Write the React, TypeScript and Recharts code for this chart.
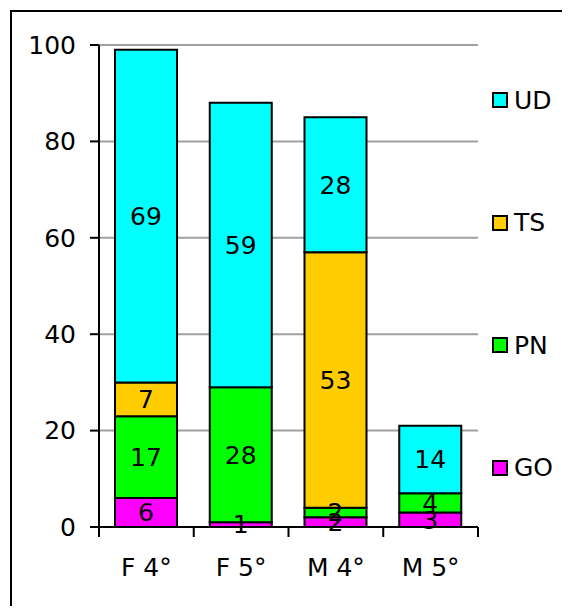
import { FC } from "react";
import {
  BarChart,
  CartesianGrid,
  XAxis,
  YAxis,
  Bar,
  LabelList,
} from "recharts";

const categories = ["F 4°", "F 5°", "M 4°", "M 5°"];
const go = [6, 1, 2, 3];
const pn = [17, 28, 2, 4];
const ts = [7, 0, 53, 0];
const ud = [69, 59, 28, 14];
const yTicks = [0, 20, 40, 60, 80, 100];

const series = [
  { key: "GO", values: go, color: "#FF00FF" },
  { key: "PN", values: pn, color: "#00FF00" },
  { key: "TS", values: ts, color: "#FFCC00" },
  { key: "UD", values: ud, color: "#00FFFF" },
];

const data = categories.map((name, i) => {
  const row: Record<string, string | number> = { name };
  series.forEach((s) => {
    row[s.key] = s.values[i];
  });
  return row;
});

const FONT = "'DejaVu Sans', Verdana, sans-serif";
const FS = 25;
const W = 570;
const H = 610;
const margin = { top: 45, right: 92, bottom: 50, left: 0 };
const Y_WIDTH = 99;
const bandHalf = (W - Y_WIDTH - margin.right) / categories.length / 2;

const XTick: FC<any> = ({ x, y, payload, index }) => {
  const half = payload && payload.offset ? payload.offset : bandHalf;
  return (
    <g>
      <line x1={x - half} x2={x - half} y1={y - 9} y2={y + 1} stroke="#000" strokeWidth={2} />
      {index === categories.length - 1 && (
        <line x1={x + half} x2={x + half} y1={y - 9} y2={y + 1} stroke="#000" strokeWidth={2} />
      )}
      <text x={x} y={y + 22} dy="0.71em" textAnchor="middle" fill="#000" fontSize={FS} fontFamily={FONT}>
        {payload.value}
      </text>
    </g>
  );
};

// legend sits on the right, top item first (reverse of stack order)
const LegendBox: FC = () => {
  const items = [...series].reverse();
  return (
    <div
      style={{
        position: "absolute",
        left: 484,
        top: 78,
        fontFamily: FONT,
        fontSize: FS,
        color: "#000",
      }}
    >
      {items.map((s) => (
        <div key={s.key} style={{ display: "flex", alignItems: "center", height: 28, marginBottom: 94.5 }}>
          <span
            style={{
              display: "inline-block",
              width: 12,
              height: 12,
              background: s.color,
              border: "2px solid #000",
              marginRight: 6,
            }}
          />
          <span>{s.key}</span>
        </div>
      ))}
    </div>
  );
};

const fmt = (v: any) => (v === 0 ? "" : v);

const App: FC = () => {
  return (
    <div style={{ position: "relative", width: 560, height: 600 }}>
      <div
        style={{
          position: "absolute",
          left: 2,
          top: 2,
          width: 556,
          height: 596,
          borderLeft: "2px solid #000",
          borderTop: "2px solid #000",
          boxSizing: "border-box",
        }}
      />
      <div style={{ position: "absolute", left: -8, top: -8 }}>
        <BarChart width={W} height={H} data={data} margin={margin}>
          <CartesianGrid vertical={false} stroke="#a0a0a0" strokeWidth={2} />
          <XAxis
            dataKey="name"
            height={33}
            tickSize={9}
            tickMargin={0}
            tickLine={false}
            axisLine={{ stroke: "#000", strokeWidth: 2 }}
            tick={<XTick />}
            interval={0}
          />
          <YAxis
            width={Y_WIDTH}
            domain={[0, 100]}
            ticks={yTicks}
            tickSize={9}
            tickMargin={14}
            axisLine={{ stroke: "#000", strokeWidth: 2 }}
            tickLine={{ stroke: "#000", strokeWidth: 2 }}
            tick={{ fill: "#000", fontSize: FS, fontFamily: FONT }}
          />
          {series.map((s) => (
            <Bar
              key={s.key}
              dataKey={s.key}
              stackId="a"
              fill={s.color}
              stroke="#000"
              strokeWidth={2}
              barSize={62}
              isAnimationActive={false}
            >
              <LabelList
                dataKey={s.key}
                position="center"
                formatter={fmt}
                fill="#000"
                fontSize={FS}
                fontFamily={FONT}
              />
            </Bar>
          ))}
        </BarChart>
      </div>
      <LegendBox />
    </div>
  );
};

export default App;
